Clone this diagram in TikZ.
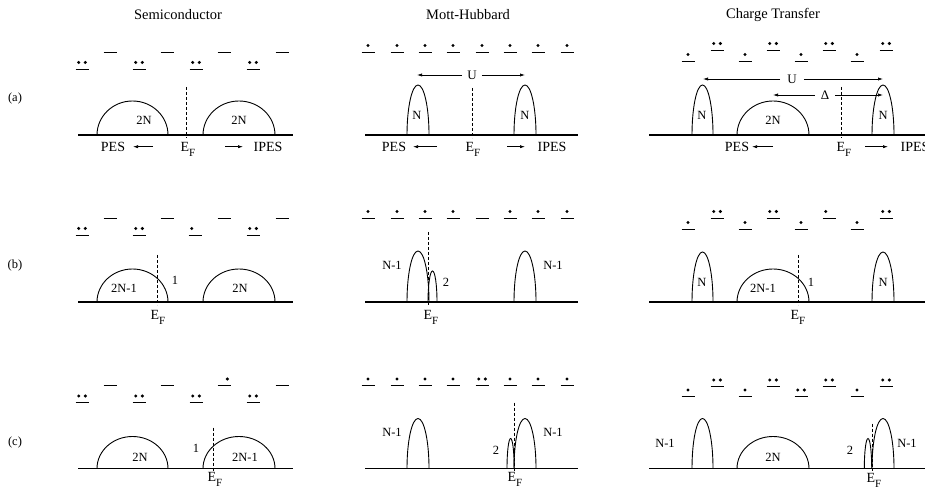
\documentclass[tikz,border=0pt]{standalone}
\usepackage{fontspec}
\setmainfont{Liberation Serif}
\usetikzlibrary{arrows.meta,positioning,calc}
\tikzset{
  baseln/.style={line width=1.3pt},
  band/.style={line width=0.9pt},
  fermi/.style={line width=0.8pt, dash pattern=on 3pt off 2pt},
  lvlline/.style={line width=0.9pt},
  lbl/.style={font=\fontsize{12.5}{13}\selectfont, inner sep=0pt},
  axlbl/.style={font=\fontsize{14}{15}\selectfont, inner sep=0pt, anchor=base},
  ttl/.style={font=\fontsize{14.5}{16}\selectfont, inner sep=0pt},
  gap/.style={font=\fontsize{13}{14}\selectfont, inner sep=#1},
  arr/.style={-{Latex[length=5pt,width=3.2pt]}, line width=0.7pt},
  pics/lvl/.style={code={\draw[lvlline] (-6.5,0) -- (6.5,0);}},
  pics/one/.style={code={\pic{lvl}; \fill (#1,6.5) circle (1.7);}},
  pics/two/.style={code={\pic{lvl}; \fill (-3.3,6.5) circle (1.7); \fill (3.3,6.5) circle (1.7);}},
}
\newcommand{\EF}{E\raisebox{-4.5pt}{\fontsize{11}{11}\selectfont F}}

\begin{document}
\begin{tikzpicture}[x=1pt, y=1pt]
\clip (0,0) rectangle (925,498);

% column titles and row labels
\node[ttl] (tSemi) at (178,483) {Semiconductor};
\node[ttl] (tMott) at (468,483) {Mott-Hubbard};
\node[ttl] (tCT) at (773,483) {Charge Transfer};
\node[ttl, font=\fontsize{12.5}{14}\selectfont] (rA) at (15,400) {(a)};
\node[ttl, font=\fontsize{12.5}{14}\selectfont] (rB) at (15,233) {(b)};
\node[ttl, font=\fontsize{12.5}{14}\selectfont] (rC) at (15,56) {(c)};

%% row (a)
\begin{scope}[yshift=363pt]
% semiconductor
\draw[baseln] (78,0) -- (293,0);
\foreach \x in {110,167,224,282} \pic at (\x,83) {lvl};
\foreach \x in {82,139,196,253} \pic at (\x,66) {two};
\draw[band] (97,0) arc[start angle=180, end angle=0, x radius=35.5, y radius=34];
\draw[band] (203,0) arc[start angle=180, end angle=0, x radius=36, y radius=34];
\node[lbl] (sA1) at (144,15) {2N};
\node[lbl] (sA2) at (239,15) {2N};
\coordinate (fsA) at (186,48);
\draw[fermi] (fsA) -- (186,-3);
\node[axlbl] (pesSA) at (113,-17) {PES};
\node[axlbl] (efSA) at (188,-17) {\EF};
\node[axlbl] (ipesSA) at (268,-17) {IPES};
\coordinate (aSA1) at (153,-11.7); \coordinate (aSA2) at (133,-11.7);
\coordinate (aSA3) at (225,-11.7); \coordinate (aSA4) at (243,-11.7);
\draw[arr] (aSA1) -- (aSA2);
\draw[arr] (aSA3) -- (aSA4);
% Mott-Hubbard
\draw[baseln] (365,0) -- (578,0);
\foreach \x in {368,397,425,453,482,510,538,567} \pic at (\x,83) {one=0};
\draw[band] (407,0) arc[start angle=180, end angle=0, x radius=11, y radius=50];
\draw[band] (514,0) arc[start angle=180, end angle=0, x radius=11, y radius=50];
\node[lbl] (mA1) at (417,20) {N};
\node[lbl] (mA2) at (525,20) {N};
\coordinate (fmA) at (472,47);
\draw[fermi] (fmA) -- (472,-3);
\node[gap=5pt] (uM) at (472,60) {U};
\coordinate (uMl) at (417,60); \coordinate (uMr) at (525,60);
\draw[arr] (uM) -- (uMl);
\draw[arr] (uM) -- (uMr);
\node[axlbl] (pesMA) at (394,-17) {PES};
\node[axlbl] (efMA) at (473,-17) {\EF};
\node[axlbl] (ipesMA) at (552,-17) {IPES};
\coordinate (aMA1) at (437,-11.7); \coordinate (aMA2) at (413,-11.7);
\coordinate (aMA3) at (507,-11.7); \coordinate (aMA4) at (525,-11.7);
\draw[arr] (aMA1) -- (aMA2);
\draw[arr] (aMA3) -- (aMA4);
% charge transfer
\draw[baseln] (649,0) -- (930,0);
\foreach \x in {688,745,801,857} \pic at (\x,74) {one=0};
\foreach \x in {717,773,829,886} \pic at (\x,85) {two};
\draw[band] (692,0) arc[start angle=180, end angle=0, x radius=10.5, y radius=50];
\draw[band] (737,0) arc[start angle=180, end angle=0, x radius=36, y radius=34];
\draw[band] (872,0) arc[start angle=180, end angle=0, x radius=11, y radius=50];
\node[lbl] (cA1) at (702,20) {N};
\node[lbl] (cA2) at (773,15) {2N};
\node[lbl] (cA3) at (883,20) {N};
\coordinate (fcA) at (841,48);
\draw[fermi] (fcA) -- (841,-3);
\node[gap=7pt] (uC) at (792,56) {U};
\coordinate (uCl) at (703,56); \coordinate (uCr) at (883,56);
\draw[arr] (uC) -- (uCl);
\draw[arr] (uC) -- (uCr);
\node[gap=6pt] (dC) at (825,40) {Δ};
\coordinate (dCl) at (773,40); \coordinate (dCr) at (883,40);
\draw[arr] (dC) -- (dCl);
\draw[arr] (dC) -- (dCr);
\node[axlbl] (pesCA) at (737,-17) {PES};
\node[axlbl] (efCA) at (844,-17) {\EF};
\node[axlbl] (ipesCA) at (915,-17) {IPES};
\coordinate (aCA1) at (773,-11.7); \coordinate (aCA2) at (752,-11.7);
\coordinate (aCA3) at (865,-11.7); \coordinate (aCA4) at (888,-11.7);
\draw[arr] (aCA1) -- (aCA2);
\draw[arr] (aCA3) -- (aCA4);
\end{scope}

%% row (b)
\begin{scope}[yshift=196pt]
% semiconductor
\draw[baseln] (78,0) -- (293,0);
\foreach \x in {110,167,224,282} \pic at (\x,84) {lvl};
\foreach \x in {82,139,253} \pic at (\x,67) {two};
\pic at (195,67) {one=-3.3};
\draw[band] (97,0) arc[start angle=180, end angle=0, x radius=35.5, y radius=33];
\draw[band] (203,0) arc[start angle=180, end angle=0, x radius=36, y radius=33];
\node[lbl] (sB1) at (124,14) {2N-1};
\node[lbl] (sB2) at (240,14) {2N};
\node[lbl] (sB3) at (175,22) {1};
\coordinate (fsB) at (157,47);
\draw[fermi] (fsB) -- (157,-3);
\node[axlbl] (efSB) at (158,-18) {\EF};
% Mott-Hubbard
\draw[baseln] (365,0) -- (578,0);
\foreach \x in {368,397,425,453,510,538,567} \pic at (\x,84) {one=0};
\pic at (482,84) {lvl};
\draw[band] (407,0) arc[start angle=180, end angle=0, x radius=11, y radius=51];
\draw[band] (428,0) arc[start angle=180, end angle=0, x radius=4.5, y radius=31];
\draw[band] (514,0) arc[start angle=180, end angle=0, x radius=11, y radius=51];
\node[lbl] (mB1) at (392,37) {N-1};
\node[lbl] (mB2) at (446,20) {2};
\node[lbl] (mB3) at (553,37) {N-1};
\coordinate (fmB) at (428,70);
\draw[fermi] (fmB) -- (428,-3);
\node[axlbl] (efMB) at (431,-18) {\EF};
% charge transfer
\draw[baseln] (649,0) -- (930,0);
\foreach \x in {688,745,801,857} \pic at (\x,73) {one=0};
\foreach \x in {717,773,886} \pic at (\x,84) {two};
\pic at (829,84) {one=-3.3};
\draw[band] (692,0) arc[start angle=180, end angle=0, x radius=10.5, y radius=50];
\draw[band] (737,0) arc[start angle=180, end angle=0, x radius=36, y radius=33];
\draw[band] (872,0) arc[start angle=180, end angle=0, x radius=11, y radius=50];
\node[lbl] (cB1) at (702,20) {N};
\node[lbl] (cB2) at (763,14) {2N-1};
\node[lbl] (cB3) at (811,20) {1};
\node[lbl] (cB4) at (883,20) {N};
\coordinate (fcB) at (798,47);
\draw[fermi] (fcB) -- (798,-3);
\node[axlbl] (efCB) at (798,-18) {\EF};
\end{scope}

%% row (c)
\begin{scope}[yshift=29.5pt]
% semiconductor
\draw[baseln] (78,0) -- (293,0);
\foreach \x in {110,167,282} \pic at (\x,83) {lvl};
\pic at (224,83) {one=3.3};
\foreach \x in {82,139,196,253} \pic at (\x,66) {two};
\draw[band] (97,0) arc[start angle=180, end angle=0, x radius=35.5, y radius=32];
\draw[band] (203,0) arc[start angle=180, end angle=0, x radius=36, y radius=32];
\node[lbl] (sC1) at (140,11) {2N};
\node[lbl] (sC2) at (245,11) {2N-1};
\node[lbl] (sC3) at (196,20) {1};
\coordinate (fsC) at (213,41);
\draw[fermi] (fsC) -- (213,-2);
\node[axlbl] (efSC) at (215,-13) {\EF};
% Mott-Hubbard
\draw[baseln] (365,0) -- (578,0);
\foreach \x in {368,397,425,453,510,538,567} \pic at (\x,83) {one=0};
\pic at (482,83) {two};
\draw[band] (407,0) arc[start angle=180, end angle=0, x radius=11, y radius=50];
\draw[band] (507,0) arc[start angle=180, end angle=0, x radius=3.6, y radius=30];
\draw[band] (514,0) arc[start angle=180, end angle=0, x radius=11, y radius=50];
\node[lbl] (mC1) at (392,36) {N-1};
\node[lbl] (mC2) at (496,18) {2};
\node[lbl] (mC3) at (553,36) {N-1};
\coordinate (fmC) at (514,66);
\draw[fermi] (fmC) -- (514,-2);
\node[axlbl] (efMC) at (515,-13) {\EF};
% charge transfer
\draw[baseln] (649,0) -- (930,0);
\foreach \x in {688,745,857} \pic at (\x,72) {one=0};
\pic at (801,72) {two};
\foreach \x in {717,773,829,886} \pic at (\x,82) {two};
\draw[band] (692,0) arc[start angle=180, end angle=0, x radius=10.5, y radius=50];
\draw[band] (737,0) arc[start angle=180, end angle=0, x radius=36, y radius=32];
\draw[band] (864.3,0) arc[start angle=180, end angle=0, x radius=3.7, y radius=30];
\draw[band] (872,0) arc[start angle=180, end angle=0, x radius=11, y radius=50];
\node[lbl] (cC1) at (665,25) {N-1};
\node[lbl] (cC2) at (773,11) {2N};
\node[lbl] (cC3) at (850,18) {2};
\node[lbl] (cC4) at (907,25) {N-1};
\coordinate (fcC) at (872,45);
\draw[fermi] (fcC) -- (872,-2);
\node[axlbl] (efCC) at (874,-14) {\EF};
\end{scope}
\end{tikzpicture}
\end{document}
